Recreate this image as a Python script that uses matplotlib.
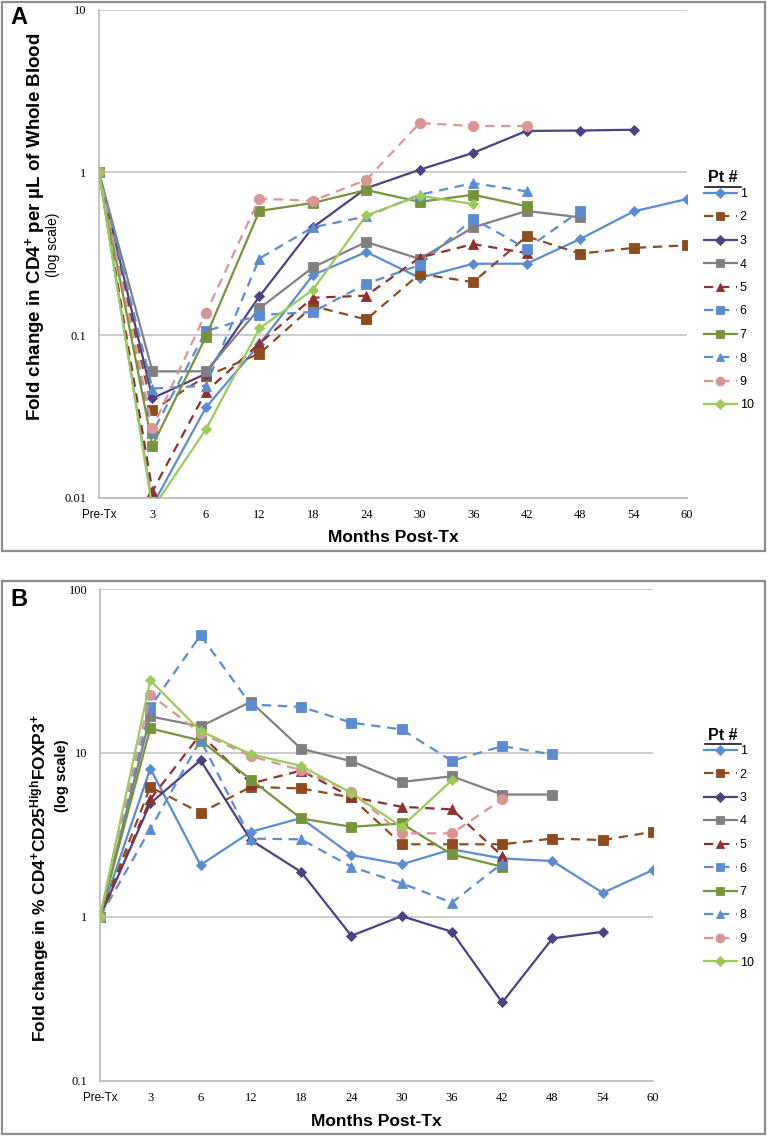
import matplotlib
matplotlib.use("Agg")
import matplotlib.pyplot as plt
import numpy as np
from matplotlib.lines import Line2D
from matplotlib.patches import Rectangle

plt.rcParams['font.family'] = ['Liberation Sans', 'DejaVu Sans']
plt.rcParams['mathtext.fontset'] = 'custom'
plt.rcParams['mathtext.rm'] = 'Liberation Sans:bold'
plt.rcParams['mathtext.bf'] = 'Liberation Sans:bold'
plt.rcParams['mathtext.default'] = 'rm'

# ---------------- data ----------------
categories = ["Pre-Tx", "3", "6", "12", "18", "24", "30", "36", "42", "48", "54", "60"]
patients = ["1", "2", "3", "4", "5", "6", "7", "8", "9", "10"]
N = None

# Panel A: fold change in CD4+ per uL whole blood
a_pt1 = [1, 0.009, 0.036, 0.088, 0.234, 0.325, 0.225, 0.275, 0.275, 0.39, 0.576, 0.687]
a_pt2 = [1, 0.0345, 0.056, 0.077, 0.151, 0.125, 0.238, 0.212, 0.405, 0.317, 0.344, 0.357]
a_pt3 = [1, 0.041, 0.058, 0.173, 0.46, 0.80, 1.04, 1.32, 1.80, 1.81, 1.83, N]
a_pt4 = [1, 0.060, 0.060, 0.146, 0.261, 0.374, 0.294, 0.46, 0.58, 0.53, N, N]
a_pt5 = [1, 0.011, 0.045, 0.089, 0.17, 0.175, 0.30, 0.363, 0.32, N, N, N]
a_pt6 = [1, 0.0252, 0.106, 0.133, 0.139, 0.207, 0.27, 0.52, 0.34, 0.58, N, N]
a_pt7 = [1, 0.021, 0.098, 0.58, 0.65, 0.78, 0.66, 0.73, 0.62, N, N, N]
a_pt8 = [1, 0.047, 0.049, 0.296, 0.46, 0.537, 0.73, 0.86, 0.765, N, N, N]
a_pt9 = [1, 0.027, 0.137, 0.69, 0.67, 0.90, 2.01, 1.93, 1.93, N, N, N]
a_pt10 = [1, 0.0086, 0.0264, 0.11, 0.19, 0.545, 0.72, 0.64, N, N, N, N]

# Panel B: fold change in % CD4+CD25High FOXP3+
b_pt1 = [1, 8.03, 2.07, 3.30, 4.0, 2.38, 2.09, 2.58, 2.27, 2.19, 1.40, 1.93]
b_pt2 = [1, 6.2, 4.31, 6.2, 6.07, 5.35, 2.77, 2.77, 2.77, 3.0, 2.94, 3.30]
b_pt3 = [1, 4.92, 9.02, 2.94, 1.88, 0.766, 1.01, 0.81, 0.30, 0.738, 0.81, N]
b_pt4 = [1, 16.7, 14.5, 20.5, 10.6, 8.9, 6.65, 7.2, 5.57, 5.57, N, N]
b_pt5 = [1, 5.2, 13.0, 6.5, 7.8, 5.39, 4.69, 4.52, 2.35, N, N, N]
b_pt6 = [1, 19.1, 52.2, 19.7, 19.1, 15.3, 13.9, 8.94, 11.0, 9.78, N, N]
b_pt7 = [1, 14.1, 11.9, 6.88, 3.98, 3.54, 3.71, 2.40, 2.02, N, N, N]
b_pt8 = [1, 3.43, 12.0, 3.0, 2.97, 2.02, 1.6, 1.22, 2.12, N, N, N]
b_pt9 = [1, 22.7, 13.2, 9.55, 7.85, 5.78, 3.23, 3.23, 5.2, N, N, N]
b_pt10 = [1, 27.7, 13.6, 9.82, 8.33, 5.7, 3.54, 6.82, N, N, N, N]

panel_a = [a_pt1, a_pt2, a_pt3, a_pt4, a_pt5, a_pt6, a_pt7, a_pt8, a_pt9, a_pt10]
panel_b = [b_pt1, b_pt2, b_pt3, b_pt4, b_pt5, b_pt6, b_pt7, b_pt8, b_pt9, b_pt10]

# ---------------- styles ----------------
colors = ['#5B8CD2', '#8E4B1E', '#4F3F84', '#808080', '#8F2F2F',
          '#5B8CD2', '#77933C', '#5B8CD2', '#D99694', '#9BCB5B']
markers = ['D', 's', 'D', 's', '^', 's', 's', '^', 'o', 'D']
msizes = [5.5, 7, 5.5, 7, 7.5, 7, 7, 7.5, 7.5, 5.5]
dashed = [False, True, False, False, True, True, False, True, True, False]

W, H = 768, 1137
fig = plt.figure(figsize=(W / 100, H / 100), dpi=100)


def fx(px):
    return px / W


def fy(py):
    return 1 - py / H


def draw_panel(rect, data, ylim, yticks, yticklabels):
    ax = fig.add_axes(rect)
    x = np.arange(len(categories))
    lines = []
    for i, series in enumerate(data):
        y = np.array([np.nan if v is None else v for v in series], dtype=float)
        kw = dict(color=colors[i], lw=1.6, marker=markers[i], ms=msizes[i],
                  markerfacecolor=colors[i], markeredgecolor=colors[i],
                  markeredgewidth=0.6, label=patients[i], zorder=3 + i * 0.01)
        if dashed[i]:
            kw['linestyle'] = (0, (4.2, 3.0))
        ln, = ax.plot(x, y, **kw)
        lines.append(ln)
    ax.set_yscale('log')
    ax.set_ylim(*ylim)
    ax.set_xlim(0, len(categories) - 1)
    ax.set_yticks(yticks)
    ax.set_yticklabels(yticklabels, fontfamily='Liberation Serif', fontsize=9)
    ax.yaxis.set_minor_locator(matplotlib.ticker.NullLocator())
    ax.set_xticks(x)
    ax.set_xticklabels(categories, fontfamily='Liberation Serif', fontsize=9, va='center')
    ax.get_xticklabels()[0].set_fontfamily('Liberation Sans')
    ax.get_xticklabels()[0].set_fontsize(8.3)
    ax.tick_params(axis='both', length=0)
    ax.tick_params(axis='y', pad=9)
    ax.tick_params(axis='x', pad=12.5)
    ax.grid(axis='y', color='#BFBFBF', lw=1.1)
    ax.set_axisbelow(True)
    for s in ['top', 'right']:
        ax.spines[s].set_visible(False)
    for s in ['left', 'bottom']:
        ax.spines[s].set_color('#BFBFBF')
        ax.spines[s].set_linewidth(1.3)
    ax.patch.set_alpha(0)
    return ax, lines


# Panel A
axA, linesA = draw_panel([fx(99), fy(498), fx(687 - 99), (498 - 9.7) / H], panel_a,
                         (0.01, 10), [0.01, 0.1, 1, 10], ["0.01", "0.1", "1", "10"])
# Panel B
axB, linesB = draw_panel([fx(100), fy(1080.7), fx(653 - 100), (1080.7 - 589) / H], panel_b,
                         (0.1, 100), [0.1, 1, 10, 100], ["0.1", "1", "10", "100"])

# frames
fig.patches.append(Rectangle((fx(2), fy(551)), fx(763), (551 - 2) / H, transform=fig.transFigure,
                             fill=False, edgecolor='#8C8C8C', lw=1.6))
fig.patches.append(Rectangle((fx(2), fy(1134)), fx(763), (1134 - 581) / H, transform=fig.transFigure,
                             fill=False, edgecolor='#8C8C8C', lw=1.6))

# panel letters
fig.text(fx(10), fy(18), "A", fontsize=17, fontweight='bold', va='center', ha='left')
fig.text(fx(10), fy(600), "B", fontsize=17, fontweight='bold', va='center', ha='left')

# axis titles
fig.text(fx(35), fy(227), r"Fold change in CD4$^{+}$ per µL of Whole Blood", rotation=90,
         fontsize=13.5, fontweight='bold', ha='center', va='center')
fig.text(fx(53), fy(245), "(log scale)", rotation=90, fontsize=10,
         ha='center', va='center')
fig.text(fx(393), fy(538), "Months Post-Tx", fontsize=12.5, fontweight='bold',
         ha='center', va='center')

fig.text(fx(40), fy(878), r"Fold change in % CD4$^{+}$CD25$^{High}$FOXP3$^{+}$", rotation=90,
         fontsize=12.5, fontweight='bold', ha='center', va='center')
fig.text(fx(62), fy(776), "(log scale)", rotation=90, fontsize=10.5, fontweight='bold',
         ha='center', va='center')
fig.text(fx(376), fy(1121), "Months Post-Tx", fontsize=12.5, fontweight='bold',
         ha='center', va='center')

# legends
for lines, title_y, top_y in [(linesA, 178, 188), (linesB, 735, 745)]:
    t = fig.text(fx(723), fy(title_y), "Pt #", fontsize=11.5, fontweight='bold',
                 ha='center', va='center')
    fig.add_artist(Line2D([fx(705), fx(741)], [fy(title_y + 9), fy(title_y + 9)],
                          transform=fig.transFigure, color='black', lw=1.1))
    leg = fig.legend(handles=lines, loc='upper left', bbox_to_anchor=(fx(704), fy(top_y)),
                     bbox_transform=fig.transFigure, frameon=False, fontsize=9,
                     handlelength=2.6, handletextpad=0.25, labelspacing=0.92,
                     borderpad=0, borderaxespad=0, markerscale=0.85)

fig.savefig("out.png", dpi=100)
